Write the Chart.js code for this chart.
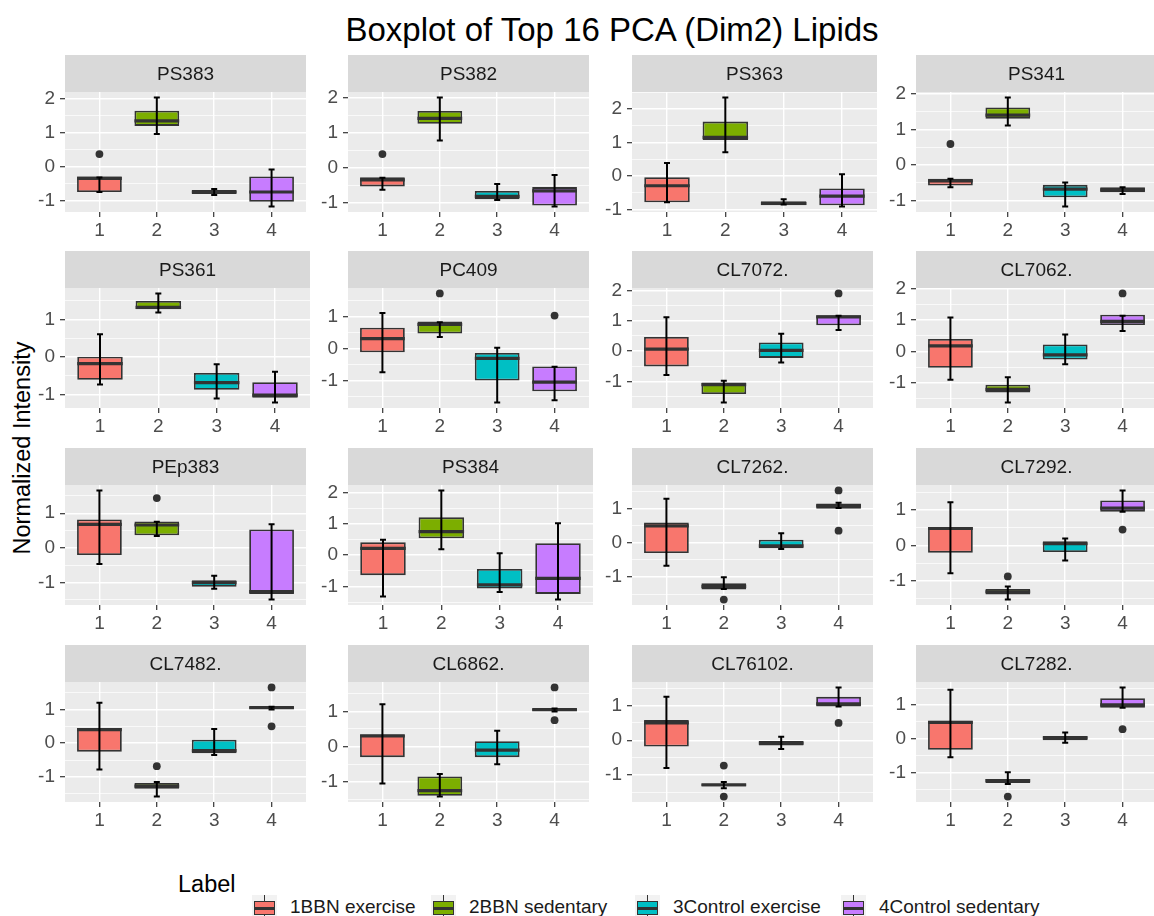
<!DOCTYPE html>
<html>
<head>
<meta charset="utf-8">
<script src="https://cdn.jsdelivr.net/npm/chart.js@4.4.1/dist/chart.umd.min.js"></script>
<style>
  body { margin: 0; width: 1154px; height: 916px; overflow: hidden; background: #fff;
         font-family: "Liberation Sans", Arial, sans-serif; position: relative; }
  canvas { position: absolute; }
  .txt { position: absolute; white-space: nowrap; }
  #title { left: 0; width: 1224px; top: 10px; text-align: center; font-size: 33px; line-height: 40px; color: #000; }
  #ytitle { left: -128px; width: 300px; top: 434px; text-align: center; font-size: 23.5px; line-height: 28px;
            color: #000; transform: rotate(-90deg); }
  #legtitle { left: 178px; top: 870px; font-size: 23.5px; line-height: 28px; color: #000; }
  .key { position: absolute; top: 895px; width: 25px; height: 25px; background: #f2f2f2; }
  .key div { position: absolute; box-sizing: border-box; }
  .legtext { top: 896px; font-size: 19px; line-height: 22px; color: #1a1a1a; }
</style>
</head>
<body>
<div id="title" class="txt">Boxplot of Top 16 PCA (Dim2) Lipids</div>
<div id="ytitle" class="txt">Normalized Intensity</div>
<div id="legtitle" class="txt">Label</div>

<script>
// ---- data ----
const lipids = ["PS383", "PS382", "PS363", "PS341",
                "PS361", "PC409", "CL7072.", "CL7062.",
                "PEp383", "PS384", "CL7262.", "CL7292.",
                "CL7482.", "CL6862.", "CL76102.", "CL7282."];
const groups = [1, 2, 3, 4];
const groupNames = ["1BBN exercise", "2BBN sedentary", "3Control exercise", "4Control sedentary"];

const q3Vals = [
  [-0.29, 1.65, -0.69, -0.29], [-0.28, 1.63, -0.67, -0.56], [-0.04, 1.62, -0.75, -0.37], [-0.39, 1.62, -0.56, -0.63],
  [0.01, 1.50, -0.42, -0.67], [0.66, 0.85, -0.13, -0.55], [0.47, -1.03, 0.29, 1.18], [0.40, -1.06, 0.22, 1.17],
  [0.82, 0.76, -0.94, 0.53], [0.41, 1.21, -0.44, 0.38], [0.59, -1.18, 0.09, 1.14], [0.52, -1.22, 0.12, 1.27],
  [0.45, -1.18, 0.10, 1.07], [0.35, -0.85, 0.15, 1.07], [0.58, -1.25, -0.02, 1.25], [0.53, -1.20, 0.08, 1.20]
];
const medianVals = [
  [-0.35, 1.35, -0.75, -0.75], [-0.35, 1.42, -0.83, -0.67], [-0.29, 1.15, -0.82, -0.60], [-0.45, 1.40, -0.68, -0.70],
  [-0.17, 1.33, -0.68, -1.01], [0.32, 0.76, -0.30, -1.04], [0.07, -1.10, 0.03, 1.13], [0.18, -1.21, -0.11, 0.96],
  [0.68, 0.66, -1.01, -1.27], [0.22, 0.75, -0.95, -0.74], [0.49, -1.27, -0.09, 1.07], [0.48, -1.30, 0.05, 1.05],
  [0.40, -1.27, -0.22, 1.05], [0.30, -1.25, -0.10, 1.05], [0.50, -1.28, -0.08, 1.05], [0.48, -1.25, 0.02, 1.00]
];
const q1Vals = [
  [-0.75, 1.20, -0.81, -1.04], [-0.54, 1.26, -0.91, -1.09], [-0.78, 1.07, -0.87, -0.87], [-0.58, 1.30, -0.91, -0.77],
  [-0.60, 1.28, -0.87, -1.08], [-0.11, 0.48, -0.99, -1.33], [-0.50, -1.41, -0.22, 0.85], [-0.52, -1.31, -0.26, 0.84],
  [-0.21, 0.36, -1.13, -1.34], [-0.64, 0.54, -1.07, -1.24], [-0.30, -1.36, -0.16, 0.99], [-0.20, -1.38, -0.18, 0.95],
  [-0.25, -1.35, -0.30, 1.02], [-0.30, -1.40, -0.30, 1.02], [-0.18, -1.33, -0.15, 0.97], [-0.33, -1.32, -0.05, 0.92]
];
const whiskerHi = [
  [-0.32, 2.04, -0.66, -0.09], [-0.29, 2.02, -0.47, -0.21], [0.39, 2.34, -0.69, 0.05], [-0.39, 1.90, -0.49, -0.63],
  [0.61, 1.70, -0.19, -0.39], [1.12, 0.83, 0.03, -0.56], [1.12, -0.97, 0.57, 1.17], [1.08, -0.82, 0.54, 1.14],
  [1.66, 0.75, -0.81, 0.68], [0.49, 2.07, 0.06, 1.02], [1.28, -1.00, 0.28, 1.16], [1.22, -1.15, 0.20, 1.55],
  [1.20, -1.15, 0.42, 1.08], [1.20, -0.78, 0.45, 1.08], [1.25, -1.20, 0.10, 1.52], [1.45, -1.00, 0.18, 1.52]
];
const whiskerLo = [
  [-0.75, 0.96, -0.84, -1.18], [-0.64, 0.78, -0.93, -1.12], [-0.78, 0.71, -0.85, -0.91], [-0.63, 1.11, -1.17, -0.82],
  [-0.73, 1.19, -1.10, -1.21], [-0.73, 0.37, -1.68, -1.61], [-0.78, -1.69, -0.37, 0.70], [-0.90, -1.63, -0.41, 0.65],
  [-0.47, 0.34, -1.19, -1.50], [-1.32, 0.19, -1.18, -1.42], [-0.67, -1.34, -0.18, 1.01], [-0.78, -1.52, -0.42, 0.95],
  [-0.78, -1.58, -0.35, 1.00], [-1.05, -1.42, -0.50, 1.00], [-0.80, -1.38, -0.25, 0.97], [-0.55, -1.35, -0.12, 0.92]
];
// [group, value]
const outliers = [
  [[1, 0.37]], [[1, 0.39]], [], [[1, 0.59]],
  [], [[2, 1.73], [4, 1.04]], [[4, 1.90]], [[4, 1.85]],
  [[2, 1.44]], [], [[2, -1.65], [4, 1.52], [4, 0.35]], [[2, -0.87], [4, 0.45]],
  [[2, -0.68], [4, 1.65], [4, 0.50]], [[4, 1.68], [4, 0.75]], [[2, -0.73], [2, -1.62], [4, 0.50]], [[2, -1.72], [4, 0.28]]
];

// ---- look ----
const groupColors = ["#F8766D", "#7CAE00", "#00BFC4", "#C77CFF"];
const colLeft = [65, 348, 632, 916];
const rowTop = [55, 251, 448, 645];
const stripH = 37, plotH = 120, plotW = 245, axisW = 45, axisH = 30;

Chart.defaults.font.family = '"Liberation Sans", Arial, sans-serif';
Chart.defaults.font.size = 19;

const panelDecor = {
  id: "panelDecor",
  beforeDraw(chart, args, opts) {
    const { ctx, chartArea: a } = chart;
    ctx.save();
    ctx.fillStyle = "#ebebeb";
    ctx.fillRect(a.left, a.top, a.right - a.left, a.bottom - a.top);
    ctx.fillStyle = "#d9d9d9";
    ctx.fillRect(a.left, 0, a.right - a.left, a.top);
    ctx.fillStyle = "#1a1a1a";
    ctx.font = '19px "Liberation Sans", Arial, sans-serif';
    ctx.textAlign = "center";
    ctx.textBaseline = "middle";
    ctx.fillText(opts.label, (a.left + a.right) / 2, a.top / 2 + 1);
    ctx.restore();
  },
  afterDatasetsDraw(chart, args, opts) {
    const { ctx } = chart;
    const y = chart.scales.y;
    const bars = chart.getDatasetMeta(0).data;
    const i = opts.index;
    ctx.save();
    bars.forEach((bar, j) => {
      // median
      const ym = y.getPixelForValue(medianVals[i][j]);
      ctx.strokeStyle = "#333333";
      ctx.lineWidth = 3.2;
      ctx.beginPath();
      ctx.moveTo(bar.x - bar.width / 2, ym);
      ctx.lineTo(bar.x + bar.width / 2, ym);
      ctx.stroke();
      // error bar
      const yh = y.getPixelForValue(whiskerHi[i][j]);
      const yl = y.getPixelForValue(whiskerLo[i][j]);
      ctx.strokeStyle = "#000";
      ctx.lineWidth = 2;
      ctx.beginPath();
      ctx.moveTo(bar.x, yh); ctx.lineTo(bar.x, yl);
      ctx.moveTo(bar.x - 3, yh); ctx.lineTo(bar.x + 3, yh);
      ctx.moveTo(bar.x - 3, yl); ctx.lineTo(bar.x + 3, yl);
      ctx.stroke();
    });
    ctx.restore();
  }
};

lipids.forEach((name, i) => {
  const r = Math.floor(i / 4), c = i % 4;
  const cv = document.createElement("canvas");
  cv.width = axisW + plotW;
  cv.height = stripH + plotH + axisH;
  cv.style.left = (colLeft[c] - axisW) + "px";
  cv.style.top = rowTop[r] + "px";
  document.body.appendChild(cv);

  const all = [].concat(q1Vals[i], q3Vals[i], whiskerHi[i], whiskerLo[i], outliers[i].map(o => o[1]));
  const lo = Math.min(...all), hi = Math.max(...all);
  const pad = (hi - lo) * 0.05;

  new Chart(cv, {
    type: "bar",
    data: {
      datasets: [
        {
          type: "bar",
          data: groups.map((g, j) => ({ x: g, y: [q1Vals[i][j], q3Vals[i][j]] })),
          backgroundColor: groupColors,
          borderColor: "#333333",
          borderWidth: 1.8,
          borderSkipped: false,
          barPercentage: 0.78,
          categoryPercentage: 1,
          order: 2
        },
        {
          type: "scatter",
          data: outliers[i].map(o => ({ x: o[0], y: o[1] })),
          pointRadius: 3.9,
          pointBackgroundColor: "#333333",
          pointBorderWidth: 0,
          order: 1
        }
      ]
    },
    options: {
      responsive: false,
      animation: false,
      devicePixelRatio: 1,
      layout: { padding: { top: stripH, left: 0, right: 0, bottom: 0 } },
      plugins: {
        legend: { display: false },
        tooltip: { enabled: false },
        panelDecor: { label: name, index: i }
      },
      scales: {
        x: {
          type: "linear",
          min: 0.4, max: 4.6,
          offset: false,
          afterBuildTicks: s => { s.ticks = groups.map(v => ({ value: v })); },
          afterFit: s => { s.height = axisH; },
          grid: { offset: false, color: "#ffffff", lineWidth: 1.4, tickColor: "#333333", tickWidth: 1.2, tickLength: 5 },
          border: { display: false },
          ticks: { color: "#4d4d4d", padding: 2, autoSkip: false, maxRotation: 0, callback: v => String(v) }
        },
        y: {
          min: lo - pad, max: hi + pad,
          afterBuildTicks: s => {
            const t = [];
            for (let v = Math.ceil(s.min * 2) / 2; v <= s.max + 1e-9; v += 0.5) t.push({ value: Math.round(v * 2) / 2 });
            s.ticks = t;
          },
          afterFit: s => { s.width = axisW; },
          grid: {
            color: "#ffffff",
            lineWidth: ctx => (Number.isInteger(ctx.tick.value) ? 1.4 : 0.7),
            tickColor: ctx => (Number.isInteger(ctx.tick.value) ? "#333333" : "rgba(0,0,0,0)"),
            tickWidth: 1.2,
            tickLength: 5
          },
          border: { display: false },
          ticks: {
            color: "#4d4d4d", padding: 5, autoSkip: false,
            callback: v => (Number.isInteger(v) ? String(v) : "")
          }
        }
      }
    },
    plugins: [panelDecor]
  });
});

// ---- legend ----
const legendX = [252, 431, 635, 841];
groupNames.forEach((label, j) => {
  const key = document.createElement("div");
  key.className = "key";
  key.style.left = legendX[j] + "px";
  key.innerHTML =
    '<div style="left:12px;top:0;width:1.2px;height:25px;background:#333"></div>' +
    '<div style="left:2px;top:6px;width:21px;height:14px;background:' + groupColors[j] + ';border:1.4px solid #333"></div>' +
    '<div style="left:2px;top:11.5px;width:21px;height:3px;background:#333"></div>';
  document.body.appendChild(key);
  const t = document.createElement("div");
  t.className = "txt legtext";
  t.style.left = (legendX[j] + 38) + "px";
  t.textContent = label;
  document.body.appendChild(t);
});
</script>
</body>
</html>
